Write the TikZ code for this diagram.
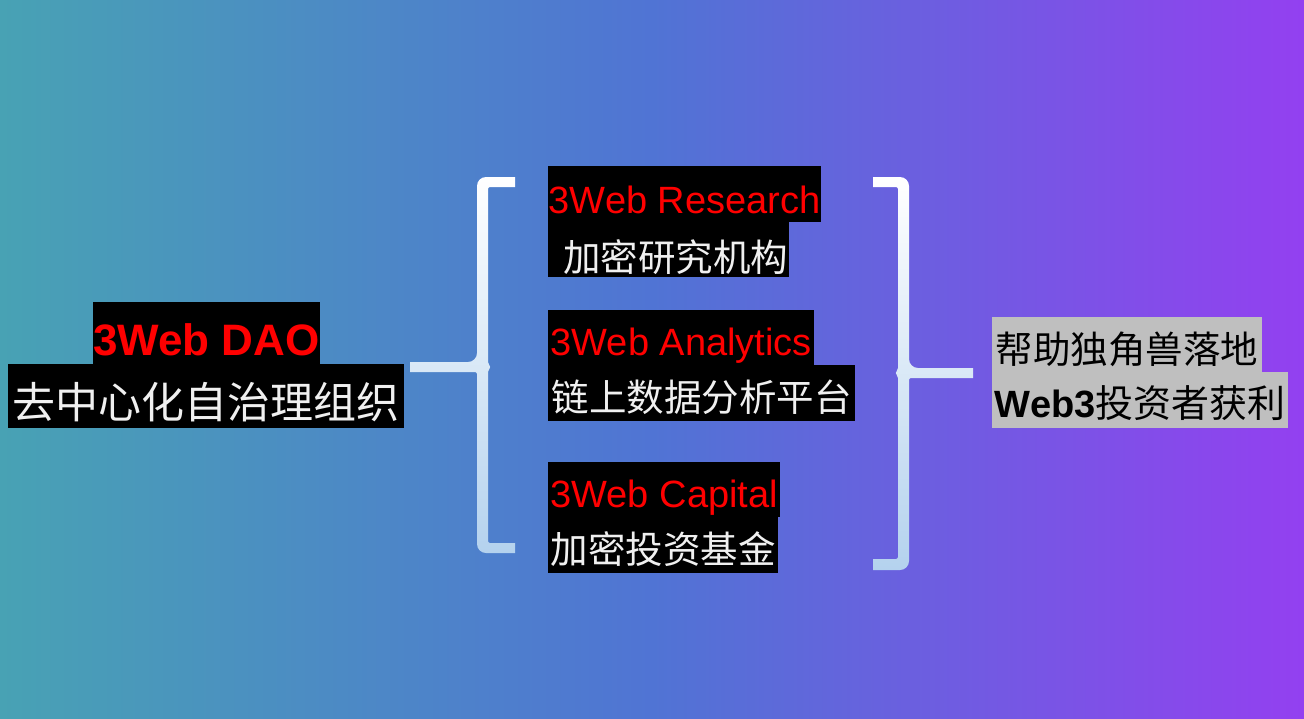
\documentclass[tikz,border=0pt]{standalone}
\usepackage{fontspec}
\setmainfont{Liberation Sans}
\newfontfamily\cjk{Noto Sans CJK SC}
\definecolor{bgL}{HTML}{48A2B4}
\definecolor{bgM}{HTML}{5074D4}
\definecolor{bgR}{HTML}{9340F0}
\definecolor{brB}{HTML}{B4D2EE}
\definecolor{cjkw}{HTML}{F0F0F0}
\definecolor{grayb}{HTML}{BFBFBF}
\begin{document}
\begin{tikzpicture}[x=1pt,y=-1pt,
  blk/.style={fill=black, inner sep=0pt, anchor=north west},
  gry/.style={fill=grayb, inner sep=0pt, anchor=north west, text=black},
  redtxt/.style={text=red, font=\fontsize{38}{40}\selectfont},
  cjktxt/.style={text=cjkw, font=\cjk\fontsize{37.5}{40}\selectfont}]
\useasboundingbox (0,0) rectangle (1304,718);
\shade[left color=bgL, right color=bgR, middle color=bgM] (0,0) rectangle (1304,718);

% left node
\node[blk, minimum width=226pt, text height=53pt, text depth=9pt, text=red,
      font=\bfseries\fontsize{44}{46}\selectfont] (dao) at (93,302) {3Web DAO};
\node[blk, minimum width=396pt, text height=54pt, text depth=10pt, text=cjkw,
      font=\cjk\fontsize{43}{46}\selectfont] (daocn) at (8,364) {去中心化自治理组织};

% left bracket
\shade[top color=white, bottom color=brB]
  (515,177) [rounded corners=9pt] -- (477,177) -- (477,362) [sharp corners] -- (410,362)
  -- (410,372) [rounded corners=2pt] -- (477,372) [rounded corners=9pt] -- (477,553)
  [sharp corners] -- (515,553) -- (515,543) [rounded corners=2pt] -- (488,543)
  -- (488,370) -- (491,367) -- (488,364) -- (488,187) [sharp corners] -- (515,187) -- cycle;

% middle nodes
\node[blk, minimum width=273pt, text height=47pt, text depth=9pt, redtxt] (res) at (548,166) {3Web Research};
\node[blk, minimum width=241pt, text height=49pt, text depth=6pt, cjktxt] (rescn) at (548,222) {\hspace*{14pt}加密研究机构};

\node[blk, minimum width=266pt, text height=45pt, text depth=10pt, redtxt] (ana) at (548,310) {3Web Analytics};
\node[blk, minimum width=307pt, text height=46pt, text depth=10pt, cjktxt] (anacn) at (548,365) {链上数据分析平台};

\node[blk, minimum width=232pt, text height=45pt, text depth=10pt, redtxt] (cap) at (548,462) {3Web Capital};
\node[blk, minimum width=230pt, text height=46pt, text depth=10pt, cjktxt] (capcn) at (548,517) {加密投资基金};

% right bracket
\shade[top color=white, bottom color=brB]
  (873,177) [rounded corners=9pt] -- (909,177) -- (909,368) [sharp corners] -- (973,368)
  -- (973,378) [rounded corners=2pt] -- (909,378) [rounded corners=9pt] -- (909,570)
  [sharp corners] -- (873,570) -- (873,559) [rounded corners=2pt] -- (898,559)
  -- (898,376) -- (895,373) -- (898,370) -- (898,187) [sharp corners] -- (873,187) -- cycle;

% right nodes
\node[gry, minimum width=270pt, text height=46pt, text depth=9pt, font=\cjk\fontsize{37.5}{40}\selectfont] (goal1) at (992,317) {帮助独角兽落地};
\node[gry, minimum width=296pt, text height=45pt, text depth=11pt, font=\fontsize{38}{40}\selectfont] (goal2) at (992,372) {{\bfseries Web3}{\cjk 投资者获利}};
\end{tikzpicture}
\end{document}
